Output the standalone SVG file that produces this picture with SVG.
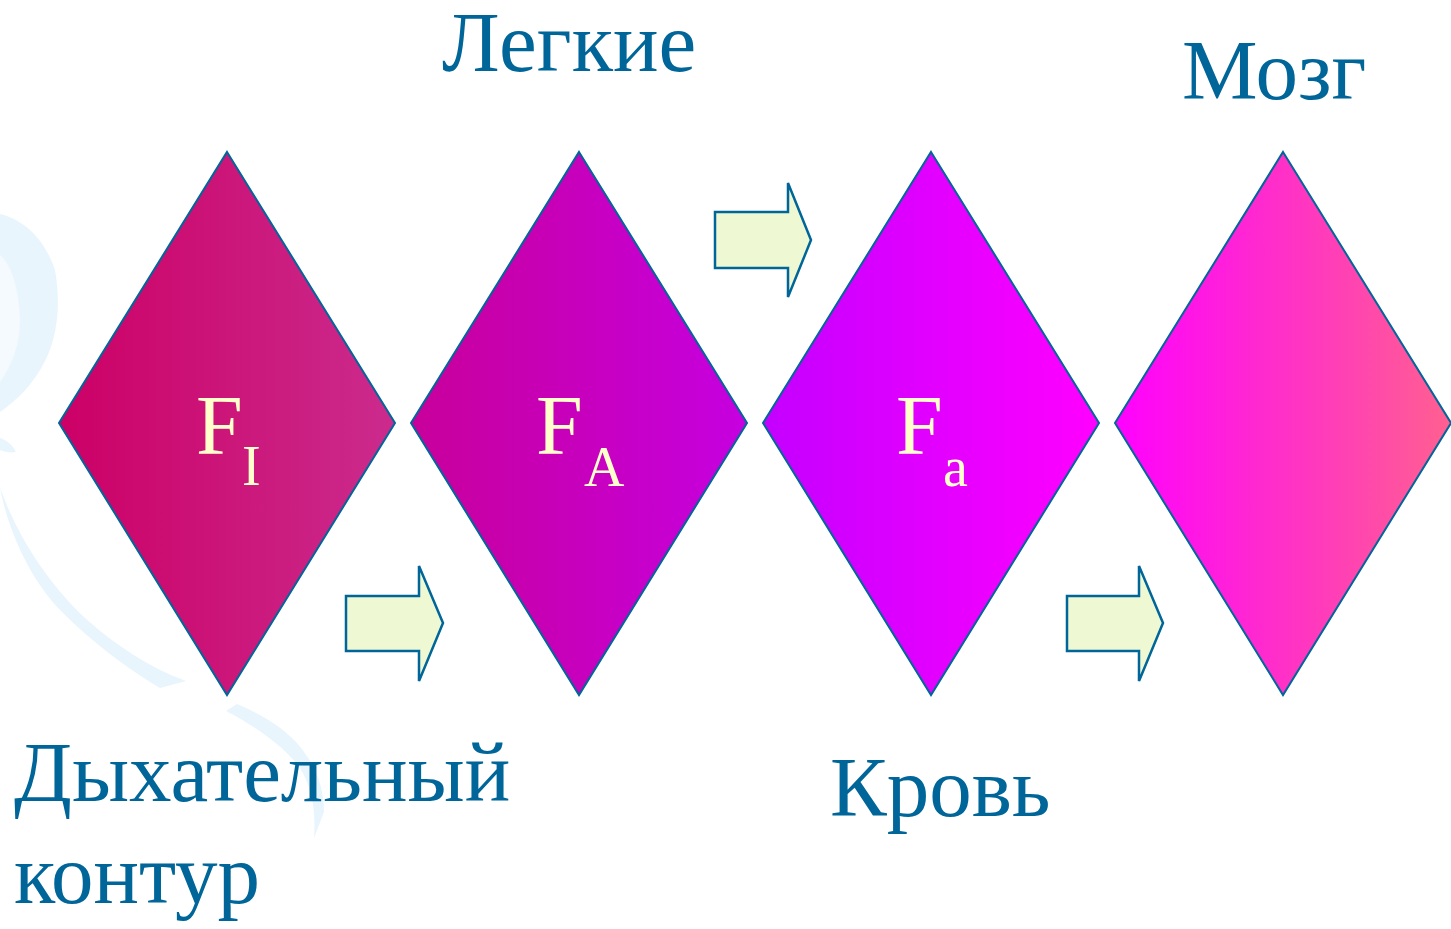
<svg xmlns="http://www.w3.org/2000/svg" width="1451" height="929" viewBox="0 0 1451 929">
  <style>
    .lbl { font-family: "Liberation Serif", "Times New Roman", serif; font-size: 85px; fill: #006699; }
    .sym { font-family: "Liberation Serif", "Times New Roman", serif; font-size: 84px; fill: #ffffcc; }
    .sub { font-size: 56px; }
    .rhomb { stroke: #006699; stroke-width: 2; }
    .arrow { fill: #eef9d4; stroke: #006699; stroke-width: 2.5; }
    .swirl { fill: #e9f5fd; }
  </style>
  <defs>
    <linearGradient id="g1" x1="0" y1="0" x2="1" y2="0">
      <stop offset="0" stop-color="#cc0066"/>
      <stop offset="1" stop-color="#cb2b8d"/>
    </linearGradient>
    <linearGradient id="g2" x1="0" y1="0" x2="1" y2="0">
      <stop offset="0" stop-color="#c8009a"/>
      <stop offset="1" stop-color="#c600e0"/>
    </linearGradient>
    <linearGradient id="g3" x1="0" y1="0" x2="1" y2="0">
      <stop offset="0" stop-color="#c400ff"/>
      <stop offset="1" stop-color="#ff00ff"/>
    </linearGradient>
    <linearGradient id="g4" x1="0" y1="0" x2="1" y2="0">
      <stop offset="0" stop-color="#ff00ff"/>
      <stop offset="1" stop-color="#ff6090"/>
    </linearGradient>
  </defs>

  <rect width="1451" height="929" fill="#ffffff"/>

  <!-- faint background ribbons -->
  <g id="backdrop">
    <path class="swirl" d="M0,214 C25,220 45,240 55,270 C62,310 56,345 40,370 C28,390 14,402 0,412 Z"/>
    <path fill="#f4fafe" d="M0,255 C12,265 19,290 20,320 C20,345 12,365 0,382 Z"/>
    <path class="swirl" d="M0,438 C6,440 12,444 16,452 C10,453 5,452 0,450 Z"/>
    <path class="swirl" d="M0,488 C8,530 30,580 62,612 C95,645 130,670 160,688 L186,681 C150,668 115,645 85,618 C50,585 20,540 4,498 Z"/>
    <path class="swirl" d="M226,711 L237,704 C260,714 280,725 296,742 C314,762 324,785 324,812 L314,838 C316,810 312,788 300,768 C285,747 255,726 226,711 Z"/>
  </g>

  <!-- rhombus nodes -->
  <g id="node-fi">
    <polygon class="rhomb" fill="url(#g1)" points="227,152 395,423 227,695 59,423"/>
    <text class="sym" x="196" y="454">F<tspan class="sub" x="242" y="485">I</tspan></text>
  </g>
  <g id="node-fa-upper">
    <polygon class="rhomb" fill="url(#g2)" points="579,152 747,423 579,695 411,423"/>
    <text class="sym" x="536" y="454">F<tspan class="sub" x="584" y="486">A</tspan></text>
  </g>
  <g id="node-fa-lower">
    <polygon class="rhomb" fill="url(#g3)" points="931,152 1099,423 931,695 763,423"/>
    <text class="sym" x="896" y="454">F<tspan class="sub" x="943" y="486">a</tspan></text>
  </g>
  <g id="node-brain">
    <polygon class="rhomb" fill="url(#g4)" points="1283,152 1451,423 1283,695 1115,423"/>
  </g>

  <!-- block arrows between nodes -->
  <g id="connectors">
    <polygon class="arrow" points="346,596 419,596 419,566 443,623 419,681 419,651 346,651"/>
    <polygon class="arrow" points="715,212 788,212 788,183 811,240 788,297 788,268 715,268"/>
    <polygon class="arrow" points="1067,596 1139,596 1139,566 1163,623 1139,681 1139,651 1067,651"/>
  </g>

  <!-- captions -->
  <g id="labels">
    <text class="lbl" x="442" y="71">Легкие</text>
    <text class="lbl" x="1182" y="99">Мозг</text>
    <text class="lbl" x="14" y="801">Дыхательный</text>
    <text class="lbl" x="14" y="903">контур</text>
    <text class="lbl" x="830" y="816">Кровь</text>
  </g>
</svg>
